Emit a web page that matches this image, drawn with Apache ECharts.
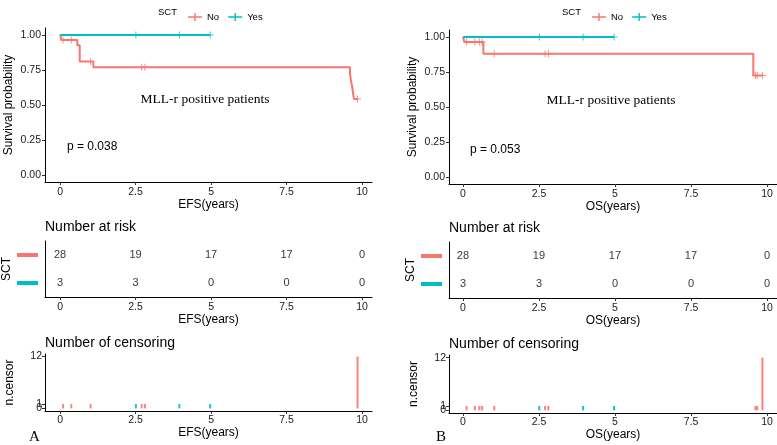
<!DOCTYPE html>
<html><head><meta charset="utf-8">
<script src="https://cdn.jsdelivr.net/npm/echarts@6/dist/echarts.min.js"></script>
<style>html,body{margin:0;padding:0;background:#fff}#c{width:777px;height:445px}</style>
</head><body><div id="c"></div>
<script>
// ---------- data ----------
const groups = ['No', 'Yes'];
const timeTicks = [0, 2.5, 5, 7.5, 10];
const survTicks = [0, 0.25, 0.5, 0.75, 1];
const censorTicks = [0, 1, 12];

// EFS Kaplan-Meier steps (time, survival)
const efsNoTime = [0, 0.05, 0.57, 0.65, 1.1, 9.6, 9.63, 9.67, 9.7, 9.73, 9.85];
const efsNoSurv = [1, 0.964, 0.926, 0.810, 0.770, 0.724, 0.679, 0.634, 0.588, 0.543, 0.543];
const efsYesTime = [0, 4.97];
const efsYesSurv = [1, 1];
// EFS censor marks on the curves
const efsNoCensTime = [0.1, 0.37, 1.01, 2.7, 2.81, 9.85];
const efsNoCensSurv = [0.964, 0.964, 0.810, 0.770, 0.770, 0.543];
const efsYesCensTime = [2.51, 3.95, 4.97];
const efsYesCensSurv = [1, 1, 1];
// EFS number censored
const efsNoCensCount = [1, 1, 1, 1, 1, 12];
const efsYesCensCount = [1, 1, 1];

// OS Kaplan-Meier steps
const osNoTime = [0, 0.05, 0.67, 9.55, 9.85];
const osNoSurv = [1, 0.964, 0.880, 0.725, 0.725];
const osYesTime = [0, 4.97];
const osYesSurv = [1, 1];
const osNoCensTime = [0.12, 0.39, 0.54, 0.63, 1.03, 2.7, 2.81, 9.62, 9.68, 9.85];
const osNoCensSurv = [0.964, 0.964, 0.964, 0.964, 0.880, 0.880, 0.880, 0.725, 0.725, 0.725];
const osYesCensTime = [2.51, 3.95, 4.97];
const osYesCensSurv = [1, 1, 1];
const osNoCensCount = [1, 1, 1, 1, 1, 1, 1, 1, 1, 12];
const osYesCensCount = [1, 1, 1];

// Number at risk
const riskTimes = [0, 2.5, 5, 7.5, 10];
const efsRiskNo = [28, 19, 17, 17, 0];
const efsRiskYes = [3, 3, 0, 0, 0];
const osRiskNo = [28, 19, 17, 17, 0];
const osRiskYes = [3, 3, 0, 0, 0];

const pLeft = 'p = 0.038';
const pRight = 'p = 0.053';
const subtitle = 'MLL-r positive patients';

// ---------- styles ----------
const RED = '#F8766D', TEAL = '#00BFC4';
const SANS = '"Liberation Sans", Arial, sans-serif';
const SERIF = '"Liberation Serif", "Times New Roman", serif';
const PLUS = 'path://M0,3 L7,3 L7,4 L0,4 Z M3,0 L4,0 L4,7 L3,7 Z';
const LEGICON = 'path://M0,3.2 L14,3.2 L14,4.8 L0,4.8 Z M6.3,0 L7.7,0 L7.7,8 L6.3,8 Z';

const zip = (a, b) => a.map((v, i) => [v, b[i]]);

const grids = [
  {left: 45, top: 28, width: 327, height: 154},
  {left: 449, top: 30, width: 328, height: 154},
  {left: 45, top: 241, width: 327, height: 56},
  {left: 449, top: 242, width: 328, height: 56},
  {left: 45, top: 354, width: 327, height: 57},
  {left: 449, top: 355, width: 328, height: 58}
];
const xRange = [[-0.5, 10.33], [-0.46, 10.33]];
const axisLine = {show: true, onZero: false, lineStyle: {color: '#000', width: 1}};
const lab = {color: '#1a1a1a', fontSize: 10.5, fontFamily: SANS, hideOverlap: false,
  showMinLabel: true, showMaxLabel: true};
function xAx(i, side, name, gap, margin) {
  return {
    type: 'value', gridIndex: i, min: xRange[side][0], max: xRange[side][1],
    axisLine: axisLine, splitLine: {show: false},
    axisTick: {show: true, customValues: timeTicks, length: 3, lineStyle: {color: '#333'}},
    axisLabel: Object.assign({customValues: timeTicks, margin: margin, formatter: v => String(v)}, lab),
    name: name, nameLocation: 'middle', nameGap: gap,
    nameTextStyle: {fontSize: 12, color: '#000', fontFamily: SANS}
  };
}
const xAxes = [
  xAx(0, 0, 'EFS(years)', 16, 5), xAx(1, 1, 'OS(years)', 16, 5),
  xAx(2, 0, 'EFS(years)', 15, 5), xAx(3, 1, 'OS(years)', 15, 5),
  xAx(4, 0, 'EFS(years)', 14, 4), xAx(5, 1, 'OS(years)', 14, 4)
];
function kmY(i) {
  return {
    type: 'value', gridIndex: i, min: -0.05, max: 1.05,
    axisLine: axisLine, splitLine: {show: false},
    axisTick: {show: true, customValues: survTicks, length: 3, lineStyle: {color: '#333'}},
    axisLabel: Object.assign({customValues: survTicks, margin: 4, formatter: v => v.toFixed(2)}, lab),
    name: 'Survival probability', nameLocation: 'middle', nameGap: 30, nameRotate: 90,
    nameTextStyle: {fontSize: 12, color: '#000', fontFamily: SANS}
  };
}
function riskY(i) {
  return {
    type: 'category', gridIndex: i, data: ['Yes', 'No'],
    axisLine: axisLine, axisTick: {show: false}, splitLine: {show: false},
    axisLabel: {margin: 7, formatter: v => '{' + v + '| }',
      rich: {No: {backgroundColor: RED, width: 21, height: 4, fontSize: 1},
             Yes: {backgroundColor: TEAL, width: 21, height: 4, fontSize: 1}}},
    name: 'SCT', nameLocation: 'middle', nameGap: 30, nameRotate: 90,
    nameTextStyle: {fontSize: 12, color: '#000', fontFamily: SANS}
  };
}
// main censor axis: labels 0 and 12; extra overlay axis carries the "1" label
function censY(i) {
  return {
    type: 'value', gridIndex: i, min: -0.6, max: 12.6,
    axisLine: axisLine, splitLine: {show: false},
    axisTick: {show: true, customValues: censorTicks, length: 3, lineStyle: {color: '#333'}},
    axisLabel: Object.assign({customValues: [censorTicks[0], censorTicks[2]], margin: 3}, lab),
    name: 'n.censor', nameLocation: 'middle', nameGap: 29, nameRotate: 90,
    nameTextStyle: {fontSize: 12, color: '#000', fontFamily: SANS}
  };
}
function censY1(i) {
  return {
    type: 'value', gridIndex: i, min: -0.6, max: 12.6, position: 'left', offset: 0,
    axisLine: {show: false, onZero: false}, splitLine: {show: false}, axisTick: {show: false},
    axisLabel: Object.assign({customValues: [censorTicks[1]], margin: 3}, lab)
  };
}
const yAxes = [kmY(0), kmY(1), riskY(2), riskY(3), censY(4), censY(5), censY1(4), censY1(5)];

const series = [];
function km(ax, t, s, ct, cs, name, color) {
  series.push({type: 'line', name: name, xAxisIndex: ax, yAxisIndex: ax, step: 'end',
    showSymbol: false, data: zip(t, s), color: color, lineStyle: {width: 2, color: color}, silent: true});
  series.push({type: 'scatter', name: name, xAxisIndex: ax, yAxisIndex: ax, symbol: PLUS,
    symbolSize: 7, data: zip(ct, cs), itemStyle: {color: color}, silent: true});
}
km(0, efsNoTime, efsNoSurv, efsNoCensTime, efsNoCensSurv, 'No', RED);
km(0, efsYesTime, efsYesSurv, efsYesCensTime, efsYesCensSurv, 'Yes', TEAL);
km(1, osNoTime, osNoSurv, osNoCensTime, osNoCensSurv, 'No', RED);
km(1, osYesTime, osYesSurv, osYesCensTime, osYesCensSurv, 'Yes', TEAL);

function risk(ax, vals, cat, name) {
  series.push({type: 'scatter', name: name, xAxisIndex: ax, yAxisIndex: ax, symbolSize: 0,
    data: riskTimes.map((t, i) => [t, cat, vals[i]]), silent: true,
    label: {show: true, position: 'inside', formatter: p => String(p.value[2]),
      color: '#000', fontSize: 11, fontFamily: SANS}});
}
risk(2, efsRiskNo, 'No', 'No'); risk(2, efsRiskYes, 'Yes', 'Yes');
risk(3, osRiskNo, 'No', 'No'); risk(3, osRiskYes, 'Yes', 'Yes');

function cens(ax, t, n, name, color) {
  series.push({type: 'bar', name: name, xAxisIndex: ax, yAxisIndex: ax, barWidth: 2, barGap: '-100%',
    data: zip(t, n), itemStyle: {color: color, opacity: 0.9}, silent: true});
}
cens(4, efsNoCensTime, efsNoCensCount, 'No', RED);
cens(4, efsYesCensTime, efsYesCensCount, 'Yes', TEAL);
cens(5, osNoCensTime, osNoCensCount, 'No', RED);
cens(5, osYesCensTime, osYesCensCount, 'Yes', TEAL);

function txt(x, y, text, size, font, align, extra) {
  return {type: 'text', x: x, y: y, silent: true,
    style: Object.assign({text: text, fontSize: size, fontFamily: font, fill: '#000',
      align: align || 'left', verticalAlign: 'middle', textAlign: align || 'left', textVerticalAlign: 'middle'}, extra || {})};
}
const graphics = [
  txt(158, 12, 'SCT', 9.5, SANS),
  txt(562, 12, 'SCT', 9.5, SANS),
  txt(67, 147, pLeft, 12, SANS),
  txt(470, 150, pRight, 12, SANS),
  txt(205, 99, subtitle, 13.5, SERIF, 'center'),
  txt(611, 100, subtitle, 13.5, SERIF, 'center'),
  txt(45, 227, 'Number at risk', 14, SANS),
  txt(449, 228, 'Number at risk', 14, SANS),
  txt(45, 343, 'Number of censoring', 14, SANS),
  txt(449, 344, 'Number of censoring', 14, SANS),
  txt(29, 437, 'A', 15, SERIF),
  txt(436, 437, 'B', 15, SERIF)
];

const legendBase = {data: groups, icon: LEGICON, itemWidth: 14, itemHeight: 8, itemGap: 9,
  top: 7, textStyle: {fontSize: 9.5, color: '#000', fontFamily: SANS, padding: [0, 0, 0, 0]}, selectedMode: false};

const chart = echarts.init(document.getElementById('c'), null, {renderer: 'canvas'});
chart.setOption({
  backgroundColor: '#fff',
  animation: false,
  grid: grids,
  xAxis: xAxes,
  yAxis: yAxes,
  legend: [Object.assign({left: 183}, legendBase), Object.assign({left: 587}, legendBase)],
  series: series,
  graphic: graphics
});
</script>
</body></html>
